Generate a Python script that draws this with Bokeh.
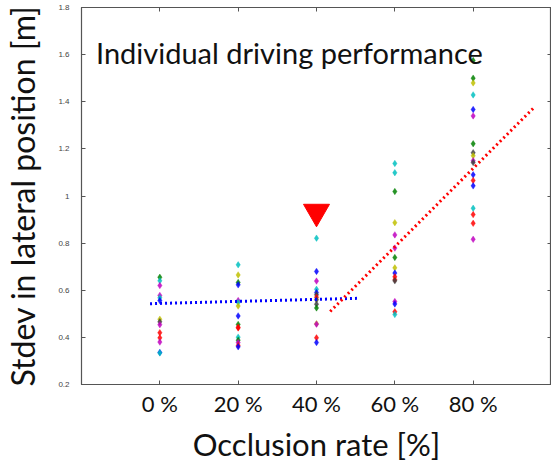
from bokeh.plotting import figure
from bokeh.models import ColumnDataSource, LinearAxis, Range1d, FixedTicker, Label
from bokeh.embed import file_html
from bokeh.resources import INLINE

# ---- data ----
occlusion_levels = [0, 20, 40, 60, 80]
x_tick_labels = ["0 %", "20 %", "40 %", "60 %", "80 %"]
y_ticks = [0.2, 0.4, 0.6, 0.8, 1.0, 1.2, 1.4, 1.6, 1.8]
y_tick_labels = ["0.2", "0.4", "0.6", "0.8", "1", "1.2", "1.4", "1.6", "1.8"]

vals_0 = [0.655, 0.640, 0.620, 0.578, 0.568, 0.556, 0.477, 0.466, 0.454, 0.420, 0.398, 0.380, 0.336, 0.334]
cols_0 = ["g", "c", "m", "m", "c", "b", "y", "k", "m", "r", "r", "m", "b", "c"]
vals_20 = [0.708, 0.665, 0.633, 0.623, 0.556, 0.548, 0.533, 0.491, 0.455, 0.443, 0.440, 0.401, 0.388, 0.378, 0.366, 0.360]
cols_20 = ["c", "y", "g", "b", "m", "c", "y", "b", "g", "r", "r", "c", "g", "m", "r", "b"]
vals_40 = [0.821, 0.680, 0.639, 0.604, 0.590, 0.581, 0.570, 0.560, 0.541, 0.525, 0.458, 0.456, 0.398, 0.378]
cols_40 = ["c", "b", "m", "c", "b", "k", "r", "k", "k", "g", "y", "m", "r", "b"]
vals_60 = [1.138, 1.099, 1.019, 0.887, 0.835, 0.779, 0.739, 0.695, 0.673, 0.657, 0.645, 0.640, 0.552, 0.542, 0.509, 0.497]
cols_60 = ["c", "c", "g", "y", "m", "m", "g", "y", "b", "r", "r", "k", "m", "b", "r", "c"]
vals_80 = [1.575, 1.500, 1.480, 1.429, 1.367, 1.340, 1.222, 1.184, 1.171, 1.150, 1.142, 1.090, 1.066, 1.043, 0.948, 0.921, 0.884, 0.816]
cols_80 = ["g", "g", "y", "c", "b", "m", "g", "k", "y", "m", "k", "b", "r", "b", "c", "r", "r", "m"]

# fitted trend lines (end points)
low_fit_x = [-2.5, 51.0]
low_fit_y = [0.543, 0.566]
high_fit_x = [43.5, 95.5]
high_fit_y = [0.510, 1.375]

# highlight marker
marker_x = [40]
marker_y = [0.933]

palette = {"b": "#0000ff", "g": "#008000", "r": "#ff0000", "c": "#00bfbf",
           "m": "#bf00bf", "y": "#bfbf00", "k": "#404040"}

xs, ys, cs = [], [], []
for lvl, vals, cols in zip(occlusion_levels, [vals_0, vals_20, vals_40, vals_60, vals_80],
                           [cols_0, cols_20, cols_40, cols_60, cols_80]):
    for v, c in zip(vals, cols):
        xs.append(lvl)
        ys.append(v)
        cs.append(palette[c])
src = ColumnDataSource(dict(x=xs, y=ys, color=cs))

FONT = "Lato"
frame_col = "#555555"

p = figure(width=551, height=465, output_backend="svg", toolbar_location=None,
           x_range=Range1d(-20, 100), y_range=Range1d(0.2, 1.8),
           min_border_left=77, min_border_right=0, min_border_top=7, min_border_bottom=78)
p.grid.visible = False
p.outline_line_color = frame_col
p.outline_line_width = 1.2
p.background_fill_color = "white"
p.border_fill_color = "white"

# bottom axis
xa = p.xaxis[0]
xa.ticker = FixedTicker(ticks=occlusion_levels)
xa.major_label_overrides = {k: v for k, v in zip(occlusion_levels, x_tick_labels)}
xa.major_label_text_font = FONT
xa.major_label_text_font_size = "22px"
xa.major_label_text_color = "#111111"
xa.major_label_standoff = 5
xa.major_tick_in = 4
xa.major_tick_out = 0
xa.minor_tick_line_color = None
xa.axis_line_color = frame_col
xa.major_tick_line_color = frame_col
xa.axis_label = "Occlusion rate [%]"
xa.axis_label_text_font = FONT
xa.axis_label_text_font_size = "31px"
xa.axis_label_text_font_style = "normal"
xa.axis_label_text_color = "#111111"
xa.axis_label_standoff = 5

# left axis
ya = p.yaxis[0]
ya.ticker = FixedTicker(ticks=y_ticks)
ya.major_label_overrides = {k: v for k, v in zip(y_ticks, y_tick_labels)}
ya.major_label_text_font = "Liberation Sans"
ya.major_label_text_font_size = "8px"
ya.major_label_text_color = "#444444"
ya.major_label_standoff = 12
ya.major_tick_in = 4
ya.major_tick_out = 0
ya.minor_tick_line_color = None
ya.axis_line_color = frame_col
ya.major_tick_line_color = frame_col
ya.axis_label = "Stdev in lateral position [m]"
ya.axis_label_text_font = FONT
ya.axis_label_text_font_size = "32px"
ya.axis_label_text_font_style = "normal"
ya.axis_label_text_color = "#111111"
ya.axis_label_standoff = 13

# mirrored tick axes on top and right
top = LinearAxis(ticker=FixedTicker(ticks=occlusion_levels), major_label_text_font_size="0px",
                 major_label_standoff=0, major_tick_in=4, major_tick_out=0,
                 minor_tick_line_color=None, axis_line_color=frame_col,
                 major_tick_line_color=frame_col)
p.add_layout(top, "above")
right = LinearAxis(ticker=FixedTicker(ticks=y_ticks), major_label_text_font_size="0px",
                   major_label_standoff=0, major_tick_in=4, major_tick_out=0,
                   minor_tick_line_color=None, axis_line_color=frame_col,
                   major_tick_line_color=frame_col)
p.add_layout(right, "right")

# points
p.scatter("x", "y", source=src, marker="diamond", size=6.5, fill_color="color",
          line_color="color", line_width=0.6, fill_alpha=0.85, line_alpha=0.6)

# trend lines
p.line(low_fit_x, low_fit_y, line_color="#0000ff", line_width=3, line_dash="2 3")
p.line(high_fit_x, high_fit_y, line_color="#ff0000", line_width=3, line_dash="2 3")

# highlight triangle
p.scatter(marker_x, marker_y, marker="inverted_triangle", size=26,
          fill_color="#ff0000", line_color="#ff0000")

p.add_layout(Label(x=-16.3, y=1.611, text="Individual driving performance",
                   text_font=FONT, text_font_size="29px", text_color="#111111",
                   text_baseline="alphabetic"))

open("out.html", "w").write(file_html(p, INLINE))
